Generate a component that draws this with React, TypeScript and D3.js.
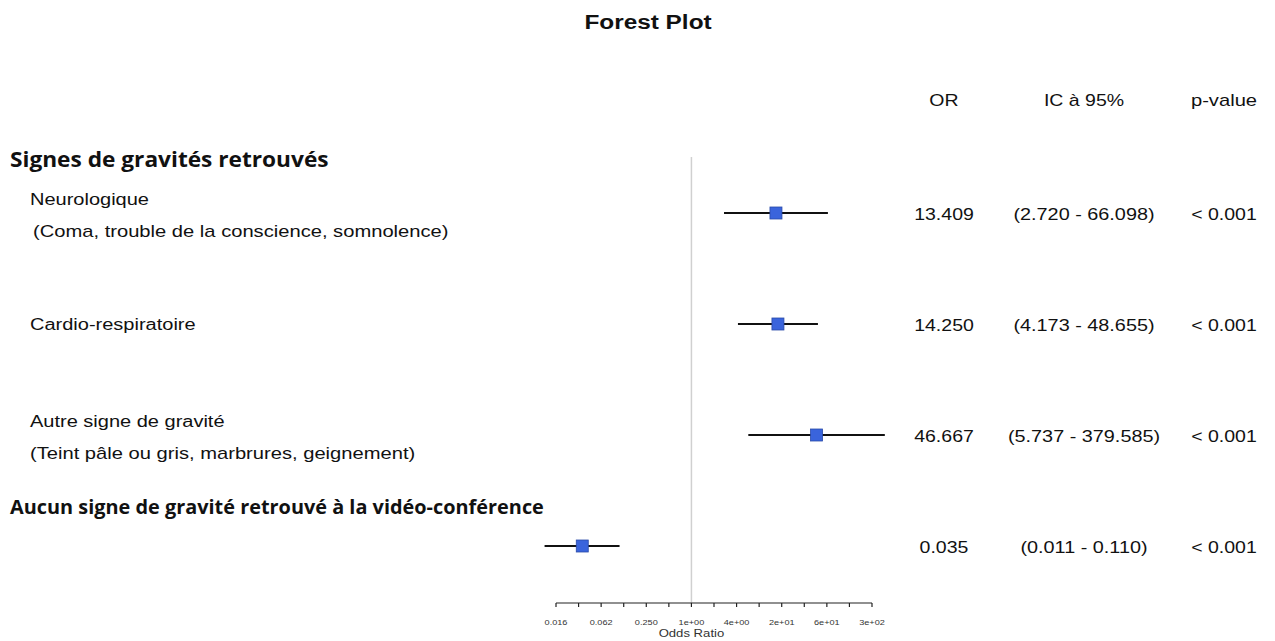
import React from "react";
import * as d3 from "d3";

const W = 1275;
const H = 641;

const rowLabels1 = ["Neurologique", "Cardio-respiratoire", "Autre signe de gravité", ""];
const rowLabels2 = ["(Coma, trouble de la conscience, somnolence)", "", "(Teint pâle ou gris, marbrures, geignement)", ""];
const groupHeaders = ["Signes de gravités retrouvés", "Aucun signe de gravité retrouvé à la vidéo-conférence"];
const orValues = [13.409, 14.25, 46.667, 0.035];
const ciLower = [2.72, 4.173, 5.737, 0.011];
const ciUpper = [66.098, 48.655, 379.585, 0.11];
const pValues = ["< 0.001", "< 0.001", "< 0.001", "< 0.001"];
const tickExponents = [-6, -5, -4, -3, -2, -1, 0, 1, 2, 3, 4, 5, 6, 7, 8];
const tickLabelMap: Record<string, string> = {
  "-6": "0.016",
  "-4": "0.062",
  "-2": "0.250",
  "0": "1e+00",
  "2": "4e+00",
  "4": "2e+01",
  "6": "6e+01",
  "8": "3e+02",
};

const fmt3 = (v: number) => v.toFixed(3);
const SX = 1.22;
const sans = "Liberation Sans, Arial, sans-serif";
const boldFont = "Open Sans, Noto Sans, sans-serif";

function T(props: {
  x: number;
  y: number;
  size: number;
  anchor?: string;
  weight?: string;
  family?: string;
  sx?: number;
  fill?: string;
  children: React.ReactNode;
}) {
  const sx = props.sx ?? SX;
  return (
    <text
      transform={`translate(${props.x},${props.y}) scale(${sx},1)`}
      textAnchor={props.anchor ?? "start"}
      fontFamily={props.family ?? sans}
      fontWeight={props.weight ?? "normal"}
      fontSize={props.size}
      fill={props.fill ?? "#111"}
    >
      {props.children}
    </text>
  );
}

export default function App() {
  const x = d3
    .scaleLog()
    .base(2)
    .domain([Math.pow(2, -6), Math.pow(2, 8)])
    .range([556, 872]);
  const rowY = [213, 324, 435, 546];
  const axisY = 603;
  const colOR = 944;
  const colCI = 1084;
  const colP = 1224;
  const headerY = 106;

  return (
    <svg width={W} height={H} style={{ position: "absolute", left: 0, top: 0, background: "#fff" }}>
      <rect x={0} y={0} width={W} height={H} fill="#fff" />
      <T x={648} y={29} size={19.5} anchor="middle" weight="bold" sx={1.25}>
        Forest Plot
      </T>
      <T x={colOR} y={headerY} size={16} anchor="middle">OR</T>
      <T x={colCI} y={headerY} size={16} anchor="middle">IC à 95%</T>
      <T x={colP} y={headerY} size={16} anchor="middle" sx={1.26}>p-value</T>

      <T x={10} y={167} size={21} family={boldFont} weight="bold" sx={1.08}>{groupHeaders[0]}</T>
      <T x={10} y={514} size={19.5} family={boldFont} weight="bold" sx={1.02}>{groupHeaders[1]}</T>

      {/* reference line at OR = 1 */}
      <line x1={x(1)} x2={x(1)} y1={157} y2={axisY} stroke="#d0d0d0" strokeWidth={1.5} />

      {orValues.map((v, i) => {
        const y = rowY[i];
        const two = rowLabels2[i] !== "";
        return (
          <g key={i}>
            {rowLabels1[i] && (
              <T x={30} y={two ? y - 8 : y + 6} size={16} sx={1.25}>
                {rowLabels1[i]}
              </T>
            )}
            {two && (
              <T x={i === 0 ? 33 : 30} y={y + 24} size={16} sx={1.26}>
                {rowLabels2[i]}
              </T>
            )}
            <line x1={x(ciLower[i])} x2={x(ciUpper[i])} y1={y} y2={y} stroke="#111" strokeWidth={2} />
            <rect x={x(v) - 6} y={y - 6} width={12} height={12} fill="#3a64dc" stroke="#2a4aa8" strokeWidth={0.8} />
            <T x={colOR} y={y + 7} size={16} anchor="middle">{fmt3(v)}</T>
            <T x={colCI} y={y + 7} size={16} anchor="middle" sx={1.24}>
              {`(${fmt3(ciLower[i])} - ${fmt3(ciUpper[i])})`}
            </T>
            <T x={colP} y={y + 7} size={16} anchor="middle">{pValues[i]}</T>
          </g>
        );
      })}

      {/* axis */}
      <line x1={x.range()[0]} x2={x.range()[1]} y1={axisY} y2={axisY} stroke="#222" strokeWidth={1.2} />
      {tickExponents.map((e) => {
        const t = Math.pow(2, e);
        const lab = tickLabelMap[String(e)];
        return (
          <g key={e}>
            <line x1={x(t)} x2={x(t)} y1={axisY} y2={axisY + 4} stroke="#222" strokeWidth={1.2} />
            {lab && (
              <T x={x(t)} y={axisY + 22} size={7.5} anchor="middle" fill="#333">
                {lab}
              </T>
            )}
          </g>
        );
      })}
      <T x={x(1)} y={637} size={10.5} anchor="middle" fill="#333" sx={1.25}>Odds Ratio</T>
    </svg>
  );
}
